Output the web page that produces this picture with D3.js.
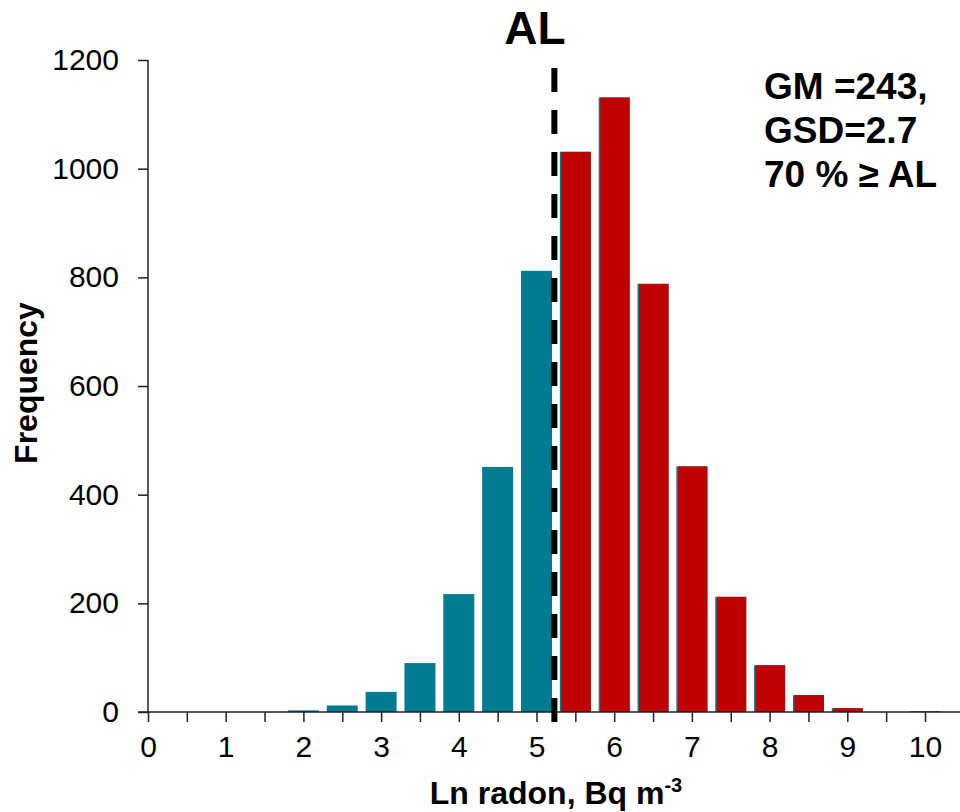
<!DOCTYPE html>
<html>
<head>
<meta charset="utf-8">
<script src="https://cdn.jsdelivr.net/npm/d3@7"></script>
<style>
  html, body { margin: 0; padding: 0; background: #fff; }
  svg { display: block; font-family: "Liberation Sans", Arial, sans-serif; }
</style>
</head>
<body>
<svg id="chart" width="960" height="812"></svg>
<script>
// bin centres (ln radon) and counts
const binCentres = [2.0, 2.5, 3.0, 3.5, 4.0, 4.5, 5.0, 5.5, 6.0, 6.5, 7.0, 7.5, 8.0, 8.5, 9.0, 9.5, 10.0];
const counts     = [3, 12, 37, 90, 217, 451, 812, 1031, 1131, 788, 452, 212, 86, 31, 7, 0, 1];
const alValue = 5.23;          // action level, ln scale
const xTicks = d3.range(0, 10.01, 0.5);
const yTicks = [0, 200, 400, 600, 800, 1000, 1200];
const notes = ["GM =243,", "GSD=2.7", "70 % \u2265 AL"];

var width = 960, height = 812;
var svg = d3.select('#chart');

var x = d3.scaleLinear().domain([0, 10]).range([148, 925]);
var y = d3.scaleLinear().domain([0, 1200]).range([712, 60]);

var barW = 31;
var teal = '#007B8F', red = '#C00000';

var bins = binCentres.map(function(c, i) { return {c: c, n: counts[i]}; });

// teal series under everything (gives the thin teal edge on the red bars)
svg.append('g').selectAll('rect')
  .data(bins.filter(d => d.n > 0))
  .enter().append('rect')
  .attr('x', d => x(d.c) - barW / 2)
  .attr('y', d => y(d.n))
  .attr('width', barW)
  .attr('height', d => y(0) - y(d.n))
  .attr('fill', teal);

// bins above the action level in red, nudged right a touch
svg.append('g').selectAll('rect')
  .data(bins.filter(d => d.c > alValue && d.n > 0))
  .enter().append('rect')
  .attr('x', d => x(d.c) - barW / 2 + 1.5)
  .attr('y', d => y(d.n))
  .attr('width', barW - 1.5)
  .attr('height', d => y(0) - y(d.n))
  .attr('fill', red);

// axes
var xAxis = d3.axisBottom(x)
  .tickValues(xTicks)
  .tickSize(10)
  .tickPadding(14)
  .tickFormat(d => Number.isInteger(d) ? d : '');

var yAxis = d3.axisLeft(y)
  .tickValues(yTicks)
  .tickSize(10)
  .tickPadding(19)
  .tickFormat(d3.format('d'));

var gx = svg.append('g').attr('transform', 'translate(0,' + y(0) + ')').call(xAxis);
var gy = svg.append('g').attr('transform', 'translate(' + x(0) + ',0)').call(yAxis);

[gx, gy].forEach(function(g) {
  g.select('.domain').remove();
  g.selectAll('line').attr('stroke', '#222').attr('stroke-width', 1.5);
  g.selectAll('text').attr('fill', '#000').style('font-size', '30px')
    .style('font-family', '"Liberation Sans", Arial, sans-serif');
});

// axis lines
svg.append('line')
  .attr('x1', x(0) - 10).attr('x2', width)
  .attr('y1', y(0)).attr('y2', y(0))
  .attr('stroke', '#222').attr('stroke-width', 1.5);
svg.append('line')
  .attr('x1', x(0)).attr('x2', x(0))
  .attr('y1', y(1200)).attr('y2', y(0))
  .attr('stroke', '#222').attr('stroke-width', 1.5);

// action level line
svg.append('line')
  .attr('x1', x(alValue)).attr('x2', x(alValue))
  .attr('y1', 68).attr('y2', y(0) + 10)
  .attr('stroke', '#000').attr('stroke-width', 6)
  .attr('stroke-dasharray', '24,18');

svg.append('text')
  .attr('x', 535).attr('y', 44)
  .attr('text-anchor', 'middle')
  .style('font-size', '46px').style('font-weight', 'bold')
  .text('AL');

// annotation
svg.append('g').selectAll('text')
  .data(notes)
  .enter().append('text')
  .attr('x', 764)
  .attr('y', (d, i) => 99 + i * 44)
  .style('font-size', '37px').style('font-weight', 'bold')
  .text(d => d);

// axis titles
var xt = svg.append('text')
  .attr('x', 556).attr('y', 804)
  .attr('text-anchor', 'middle')
  .style('font-size', '32px').style('font-weight', 'bold');
xt.append('tspan').text('Ln radon, Bq m');
xt.append('tspan').attr('dy', -12).style('font-size', '20px').text('-3');

svg.append('text')
  .attr('transform', 'translate(37,383) rotate(-90)')
  .attr('text-anchor', 'middle')
  .style('font-size', '32px').style('font-weight', 'bold')
  .text('Frequency');
</script>
</body>
</html>
